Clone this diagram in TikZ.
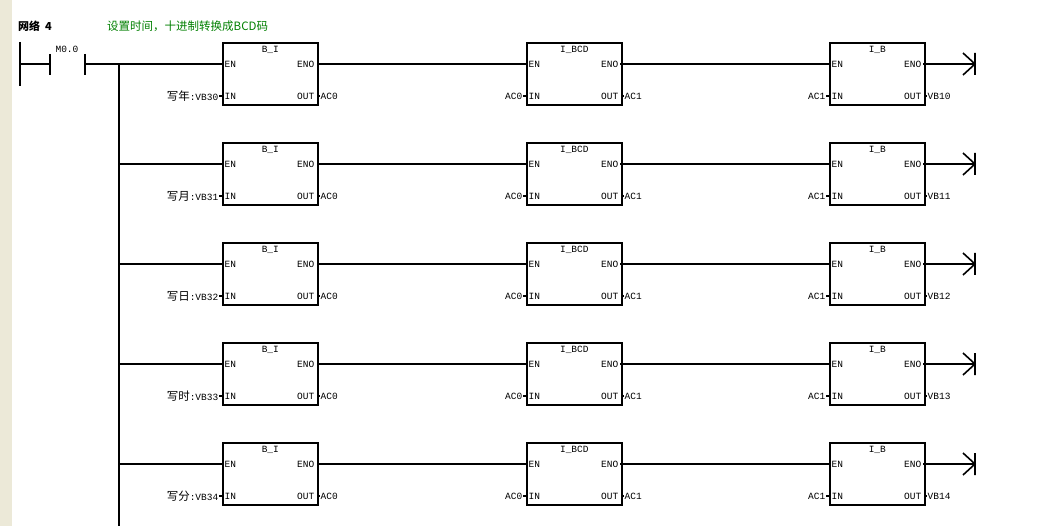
\documentclass[tikz,border=0pt]{standalone}
\usepackage{fontspec}
\usetikzlibrary{calc}
\setmonofont{Liberation Mono}
\newfontfamily\cjk{Noto Sans CJK SC}
\definecolor{side}{RGB}{236,233,216}
\begin{document}
\begin{tikzpicture}[x=1pt,y=-1pt,
  wire/.style={line width=1.3pt},
  fbox/.style={draw,line width=1.6pt},
  pin/.style={font=\ttfamily\fontsize{9.5}{10}\selectfont,inner sep=2.5pt},
  lbl/.style={font=\fontsize{9.5}{10}\selectfont\ttfamily,inner sep=0.5pt}]
\useasboundingbox (0,0) rectangle (1046,526);
\fill[white] (0,0) rectangle (1046,526);
\fill[side] (0,0) rectangle (12,526);
\node[anchor=west,font=\cjk\bfseries\fontsize{11}{12}\selectfont,inner sep=0pt] (net) at (18,26) {网络\ \ 4};
\node[anchor=west,font=\cjk\fontsize{11.5}{12}\selectfont,text={rgb,255:red,0;green,128;blue,0},inner sep=0pt] (cmt) at (107,26) {设置时间，十进制转换成BCD码};
\coordinate (r0) at (20,42); \coordinate (r1) at (20,86);
\draw[line width=1.6pt] (r0) -- (r1);
\node[lbl,anchor=south] (m0) at (67,53) {M0.0};
\coordinate (c1) at (50,64); \coordinate (c2) at (85,64);
\draw[line width=1.6pt] (50,54) -- (50,75) (85,54) -- (85,75);
\draw[wire] (20,64) -- (c1) (c2) -- (119,64);
\coordinate (bt) at (119,64); \coordinate (bb) at (119,526);
\draw[wire] (bt) -- (bb);
\foreach \i/\lab/\vb in {0/写年/VB30,1/写月/VB31,2/写日/VB32,3/写时/VB33,4/写分/VB34}{
  \pgfmathsetmacro\t{42+100*\i}
  \pgfmathsetmacro\e{\t+22}
  \pgfmathsetmacro\n{\t+54}
  \foreach \bx/\bn/\inl/\outl in {222/B\_I/{}/AC0,526/I\_BCD/AC0/AC1,829/I\_B/AC1/VB1\i}{
    \node[fbox,minimum width=95,minimum height=62,inner sep=0,anchor=north west] (b\bx-\i) at (\bx,\t) {};
    \node[pin,anchor=north] at ($(b\bx-\i.north)+(0,1.5)$) {\bn};
    \node[pin,anchor=west] at (\bx,\e) {EN};
    \node[pin,anchor=east] at (\bx+95,\e) {ENO};
    \node[pin,anchor=west] at (\bx,\n) {IN};
    \node[pin,anchor=east] at (\bx+95,\n) {OUT};
    \draw[line width=1.2pt] (\bx-3,\n) -- (\bx,\n) (\bx+95,\n) -- (\bx+98,\n);
    \node[lbl,anchor=west] at (\bx+98,\n) {\outl};
    \node[lbl,anchor=east] at (\bx-3,\n) {\inl};
  }
  \node[lbl,anchor=east] at (219,\n) {{\cjk\fontsize{11.5}{12}\selectfont\lab}:\vb};
  \draw[wire] (119,\e) -- (222,\e) (317,\e) -- (526,\e) (620,\e) -- (829,\e) (923,\e) -- (975,\e);
  \draw[line width=1.6pt] (975,\e-11) -- (975,\e+11) (963,\e-11) -- (975,\e) -- (963,\e+11);
}
\end{tikzpicture}
\end{document}
